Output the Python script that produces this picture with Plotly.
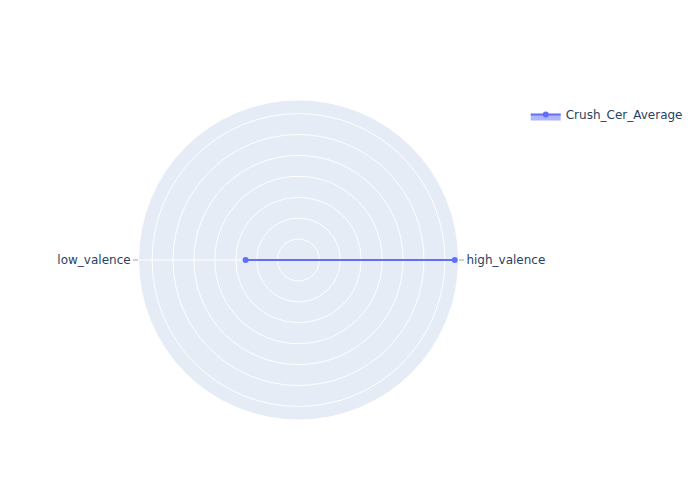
import plotly.graph_objects as go

categories = ["high_valence", "low_valence"]
values = [0.747, 0.253]
series_name = "Crush_Cer_Average"

fig = go.Figure()
fig.add_trace(go.Scatterpolar(
    r=values,
    theta=categories,
    fill="toself",
    name=series_name,
    showlegend=True,
))
fig.update_layout(
    width=700,
    height=500,
    font=dict(family="DejaVu Sans", size=12, color="#2a3f5f"),
    polar=dict(
        radialaxis=dict(visible=True, showticklabels=False, showline=False,
                        ticks="", layer="below traces"),
        angularaxis=dict(ticks="outside", ticklen=5, tickcolor="#a0a0a0"),
    ),
    showlegend=True,
)
fig.write_html("out.html")
